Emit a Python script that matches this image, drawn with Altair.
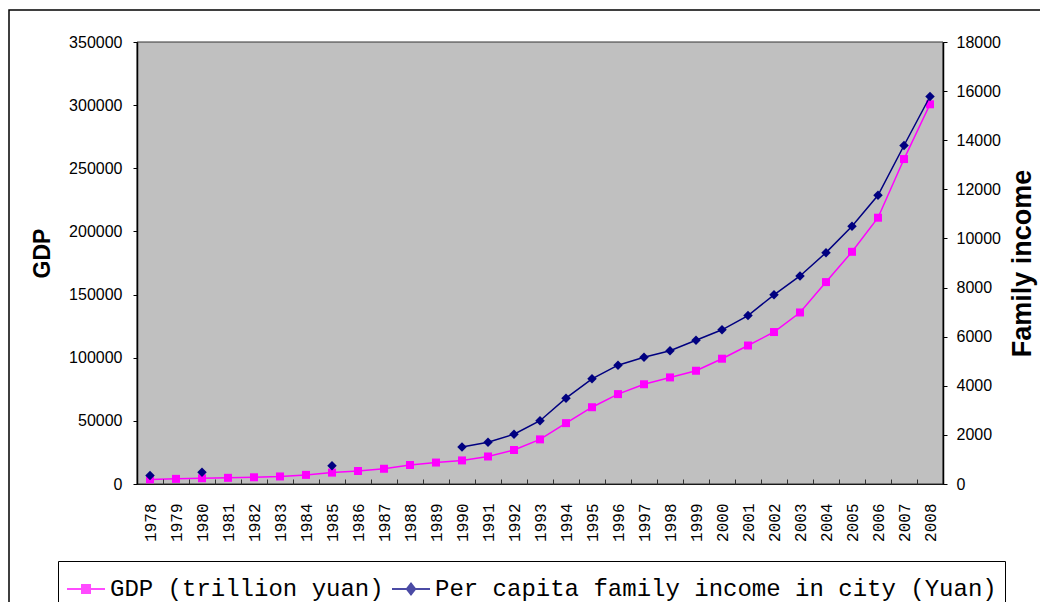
import altair as alt
import pandas as pd

# ---- data ----
years = [str(y) for y in range(1978, 2009)]
gdp = [3645, 4063, 4546, 4892, 5323, 5963, 7208, 9016, 10275, 12059, 15043,
       16992, 18668, 21781, 26923, 35334, 48198, 60794, 71177, 78973, 84402,
       89677, 99215, 109655, 120333, 135823, 159878, 183868, 210871, 257306,
       300670]
income = [343, None, 478, None, None, None, None, 739, None, None, None, None,
          1510, 1701, 2027, 2577, 3496, 4283, 4839, 5160, 5425, 5854, 6280,
          6860, 7703, 8472, 9422, 10493, 11760, 13786, 15781]
series_names = ["GDP (trillion yuan)", "Per capita family income in city (Yuan)"]
series_colors = ["#FF00FF", "#000080"]
gdp_ticks = list(range(0, 350001, 50000))
income_ticks = list(range(0, 18001, 2000))

df = pd.DataFrame({"year": years, "gdp": gdp, "income": income})
legend_df = pd.DataFrame({"series": series_names})
frame_df = pd.DataFrame({"a": [0]})

# legend symbols: a short line with a (solid-looking) marker
legend_paths = [
    "M-1,0H1 M-0.21,-0.21H0.21V0.21H-0.21Z M-0.14,-0.14H0.14V0.14H-0.14Z "
    "M-0.07,-0.07H0.07V0.07H-0.07Z",
    "M-1,0H1 M0,-0.28L0.22,0L0,0.28L-0.22,0Z M0,-0.18L0.14,0L0,0.18L-0.14,0Z "
    "M0,-0.08L0.06,0L0,0.08L-0.06,0Z",
]

x_enc = alt.X(
    "year:O",
    sort=years,
    scale=alt.Scale(type="band", paddingInner=0, paddingOuter=0),
    bandPosition=0.5,
    axis=alt.Axis(
        title=None, labelAngle=270, labelFont="Liberation Mono",
        labelFontSize=16, labelColor="black", tickBand="extent", tickSize=5,
        tickColor="#333333", offset=-5, domain=False, labelPadding=19,
        grid=False, zindex=2,
    ),
)

left_axis = alt.Axis(
    title="GDP", titleFont="Liberation Sans", titleFontSize=23,
    titleFontWeight="bold", titleColor="black", titlePadding=14,
    titleY=211,
    labelFont="Liberation Sans", labelFontSize=16, labelColor="black",
    tickSize=4, tickColor="black", labelPadding=11, values=gdp_ticks,
    format="d", grid=False, domainColor="black", domainWidth=1.5, zindex=2,
)
right_axis = alt.Axis(
    orient="right", title="Family income", titleFont="Liberation Sans",
    titleFontSize=27, titleFontWeight="bold", titleColor="black",
    titleAngle=270, titleBaseline="top", titlePadding=9,
    labelFont="Liberation Sans", labelFontSize=16, labelColor="black",
    tickSize=4, tickColor="black", labelPadding=9, values=income_ticks,
    format="d", grid=False, domainColor="black", domainWidth=1.5, zindex=2,
)

y_gdp = alt.Y("gdp:Q", scale=alt.Scale(domain=[0, 350000], nice=False), axis=left_axis)
y_inc = alt.Y("income:Q", scale=alt.Scale(domain=[0, 18000], nice=False), axis=right_axis)

base = alt.Chart(df)

gdp_layer = alt.layer(
    base.mark_line(color=series_colors[0], strokeWidth=1.5).encode(x=x_enc, y=y_gdp),
    base.mark_point(shape="square", filled=True, color=series_colors[0],
                    size=64, opacity=1).encode(x=x_enc, y=y_gdp),
)

inc_layer = alt.layer(
    base.mark_line(color=series_colors[1], strokeWidth=1.5,
                   invalid="break-paths-show-domains").encode(x=x_enc, y=y_inc),
    base.mark_point(shape="diamond", filled=True, color=series_colors[1],
                    size=90, opacity=1).encode(x=x_enc, y=y_inc),
)

leg = alt.Legend(
    orient="none", legendX=-79, legendY=519, direction="horizontal",
    title=None, labelFont="Liberation Mono", labelFontSize=24,
    labelColor="black", labelLimit=800, symbolSize=1444,
    symbolStrokeWidth=2, strokeColor="black", fillColor="white",
    padding=8, columnPadding=4, labelOffset=4,
)

legend_layer = alt.Chart(legend_df).mark_point(filled=False, strokeWidth=2).encode(
    color=alt.Color("series:N", sort=series_names,
                    scale=alt.Scale(domain=series_names, range=series_colors),
                    legend=leg),
    shape=alt.Shape("series:N", sort=series_names,
                    scale=alt.Scale(domain=series_names, range=legend_paths),
                    legend=leg),
).transform_filter("false")

# outer chart frame (decoration)
frame = alt.Chart(frame_df).mark_rect(
    fill="white", fillOpacity=0, stroke="black", strokeWidth=1.5
).encode(
    x=alt.value(-128), x2=alt.value(3000), y=alt.value(-32), y2=alt.value(3000)
)

# grey plot-area background spanning the whole plot
plot_bg = alt.Chart(frame_df).mark_rect(
    fill="#C0C0C0", stroke="#333333", strokeWidth=1
).encode(
    x=alt.value(0), x2=alt.value("width"), y=alt.value(0), y2=alt.value("height")
)

chart = alt.layer(frame, plot_bg, gdp_layer, inc_layer, legend_layer).resolve_scale(
    y="independent"
).properties(
    width=806, height=442,
    autosize=alt.AutoSizeParams(type="none"),
    padding={"left": 129, "top": 34, "right": 97, "bottom": 118},
    background="white",
).configure_view(
    stroke="black", strokeWidth=1
)

chart.save("out.html", embed_options={"renderer": "svg", "actions": False})
